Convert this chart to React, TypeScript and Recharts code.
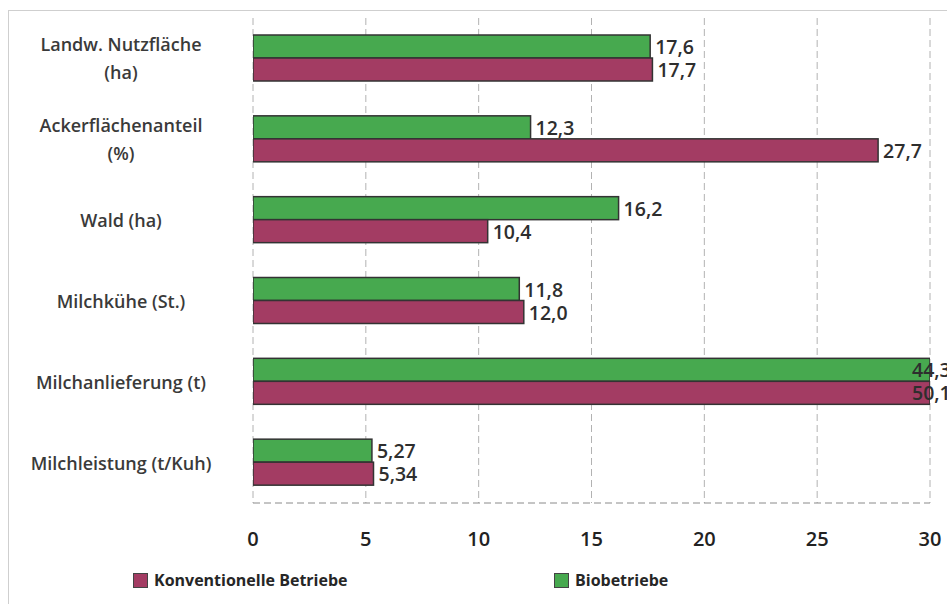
import React from 'react'
import { BarChart, Bar, XAxis, YAxis, CartesianGrid, LabelList } from 'recharts'

const categories = [
  'Landw. Nutzfläche\n(ha)',
  'Ackerflächenanteil\n(%)',
  'Wald (ha)',
  'Milchkühe (St.)',
  'Milchanlieferung (t)',
  'Milchleistung (t/Kuh)',
]
const bioValues = [17.6, 12.3, 16.2, 11.8, 44.3, 5.27]
const konvValues = [17.7, 27.7, 10.4, 12.0, 50.1, 5.34]
const xTicks = [0, 5, 10, 15, 20, 25, 30]
const X_MAX = 30

const data = categories.map((name, i) => ({
  name,
  bio: bioValues[i],
  konv: konvValues[i],
}))

const FONT = '"Open Sans", "Noto Sans", sans-serif'
const GREEN = '#47a94f'
const RED = '#a33c63'

function fmt(v: number) {
  return v.toLocaleString('de-DE', {
    minimumFractionDigits: v < 10 ? 2 : 1,
    maximumFractionDigits: v < 10 ? 2 : 1,
  })
}

function CategoryTick(props: any) {
  const { y, payload } = props
  const lines: string[] = String(payload.value).split('\n')
  const lineH = 28
  const startY = y - ((lines.length - 1) * lineH) / 2
  return (
    <text
      x={121}
      y={startY}
      textAnchor="middle"
      fill="#3a3a3a"
      fontFamily={FONT}
      fontWeight={600}
      fontSize={18}
      dominantBaseline="central"
    >
      {lines.map((l, i) => (
        <tspan key={i} x={121} dy={i === 0 ? 0 : lineH}>
          {l}
        </tspan>
      ))}
    </text>
  )
}

function ValueLabel(props: any) {
  const vb = props.viewBox || props
  const x = vb.x ?? props.x
  const y = vb.y ?? props.y
  const w = vb.width ?? props.width
  const h = vb.height ?? props.height
  const value = Number(props.value)
  let lx = x + w + 5
  if (value > X_MAX) {
    // bar is cut at the axis end; put the label over the cut end
    lx = x + (w * X_MAX) / value - 18
  }
  return (
    <text
      x={lx}
      y={y + h / 2}
      fill="#2e2e2e"
      fontFamily={FONT}
      fontWeight={600}
      fontSize={19.5}
      dominantBaseline="central"
    >
      {fmt(value)}
    </text>
  )
}

function ClippedBar(props: any) {
  const { x, y, width, height, fill, background } = props
  const limit = background ? background.x + background.width : x + width
  const w = Math.max(0, Math.min(width, limit - x))
  return <rect x={x} y={y} width={w} height={height} fill={fill} stroke="#333" strokeWidth={1.5} />
}

function LegendItem({ color, label, left }: { color: string; label: string; left: number }) {
  return (
    <div
      style={{
        position: 'absolute',
        left,
        top: 569,
        display: 'flex',
        alignItems: 'center',
        gap: 6,
        fontFamily: FONT,
        fontWeight: 700,
        fontSize: 16,
        color: '#262626',
      }}
    >
      <div style={{ width: 13, height: 13, background: color, border: '1px solid #444' }} />
      <span>{label}</span>
    </div>
  )
}

export default function App() {
  return (
    <div style={{ position: 'absolute', left: 0, top: 0, width: 947, height: 604, background: '#fff', overflow: 'hidden' }}>
      <div
        style={{
          position: 'absolute',
          left: 8,
          top: 10,
          width: 960,
          height: 620,
          borderLeft: '1px solid #cfcfcf',
          borderTop: '1px solid #cfcfcf',
        }}
      />
      <BarChart
        width={947}
        height={604}
        data={data}
        layout="vertical"
        margin={{ top: 18, right: 17, left: 8, bottom: 51 }}
        barGap={0}
        barSize={23}
      >
        <CartesianGrid horizontal={false} stroke="#b2b2b2" strokeDasharray="7 4" />
        <XAxis
          type="number"
          domain={[0, X_MAX]}
          ticks={xTicks}
          allowDataOverflow
          height={50}
          tickSize={0}
          tickMargin={29}
          axisLine={{ stroke: '#8a8a8a', strokeDasharray: '7 4' }}
          tickLine={false}
          tick={{ fill: '#222', fontSize: 20, fontWeight: 600, fontFamily: FONT }}
        />
        <YAxis
          type="category"
          dataKey="name"
          width={245}
          axisLine={false}
          tickLine={false}
          tick={<CategoryTick />}
          interval={0}
        />
        <Bar dataKey="bio" fill={GREEN} isAnimationActive={false} shape={<ClippedBar />}>
          <LabelList dataKey="bio" content={<ValueLabel />} />
        </Bar>
        <Bar dataKey="konv" fill={RED} isAnimationActive={false} shape={<ClippedBar />}>
          <LabelList dataKey="konv" content={<ValueLabel />} />
        </Bar>
      </BarChart>
      <LegendItem color={RED} label="Konventionelle Betriebe" left={133} />
      <LegendItem color={GREEN} label="Biobetriebe" left={554} />
    </div>
  )
}
